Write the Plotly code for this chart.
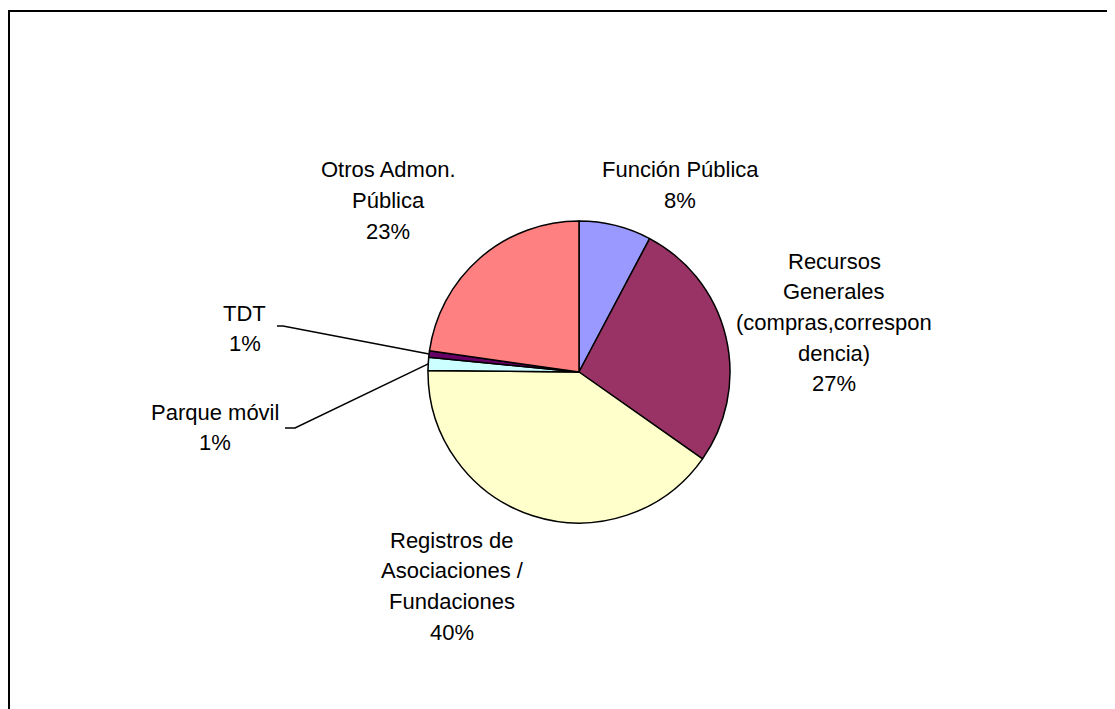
import math
import plotly.graph_objects as go

W, H = 1115, 709
OFF = 8  # page body margin offset

# ---- data ----
categories = ["Función Pública", "Recursos Generales (compras,correspondencia)",
              "Registros de Asociaciones / Fundaciones", "Parque móvil", "TDT",
              "Otros Admon. Pública"]
values = [7.75, 27.0, 40.4, 1.4, 0.7, 22.75]
label_lines = [
    ["Función Pública"],
    ["Recursos", "Generales", "(compras,correspon", "dencia)"],
    ["Registros de", "Asociaciones /", "Fundaciones"],
    ["Parque móvil"],
    ["TDT"],
    ["Otros Admon.", "Pública"],
]
colors = ["#9999FF", "#993366", "#FFFFCC", "#CCFFFF", "#660066", "#FF8080"]

# ---- layout (pixel) ----
cx, cy, r = 579, 372, 151
label_pos = [(680, 170), (834, 261), (452, 540), (215, 412), (245, 313), (388, 170)]
line_gap = 30.7
leaders = {3: [(285, 428), (295, 428)], 4: [(277, 326), (283, 326)]}
FONT = dict(family="Liberation Sans, Arial, sans-serif", size=22, color="black")


def px(x):
    return (x - OFF) / W


def py(y):
    return 1 - (y - OFF) / H


fig = go.Figure()
fig.add_trace(go.Pie(
    labels=categories, values=values, sort=False, direction="clockwise",
    rotation=0, textinfo="none", hoverinfo="label+percent",
    marker=dict(colors=colors, line=dict(color="black", width=1.5)),
    domain=dict(x=[px(cx - r), px(cx + r)], y=[py(cy + r), py(cy - r)]),
    showlegend=False,
))

total = sum(values)
annotations = []
shapes = []
cum = 0.0
for i, v in enumerate(values):
    pct = round(v / total * 100)
    lines = label_lines[i] + [f"{pct}%"]
    lx, ly = label_pos[i]
    for k, t in enumerate(lines):
        annotations.append(dict(
            x=px(lx), y=py(ly + k * line_gap), xref="paper", yref="paper",
            text=t, showarrow=False, xanchor="center", yanchor="middle", font=FONT))
    mid = (cum + v / 2) / total * 2 * math.pi
    cum += v
    if i in leaders:
        ex = cx + r * math.sin(mid)
        ey = cy - r * math.cos(mid)
        pts = leaders[i] + [(ex, ey)]
        path = "M " + " L ".join(f"{px(a)},{py(b)}" for a, b in pts)
        shapes.append(dict(type="path", path=path, xref="paper", yref="paper",
                           line=dict(color="black", width=1.5)))

# outer frame (extends beyond right/bottom edges)
shapes.append(dict(type="rect", xref="paper", yref="paper",
                   x0=px(9), x1=1.02, y0=-0.02, y1=py(11),
                   line=dict(color="black", width=2)))

fig.update_layout(
    width=W, height=H, margin=dict(l=0, r=0, t=0, b=0),
    paper_bgcolor="white", plot_bgcolor="white",
    annotations=annotations, shapes=shapes,
)
fig.write_html("out.html")
